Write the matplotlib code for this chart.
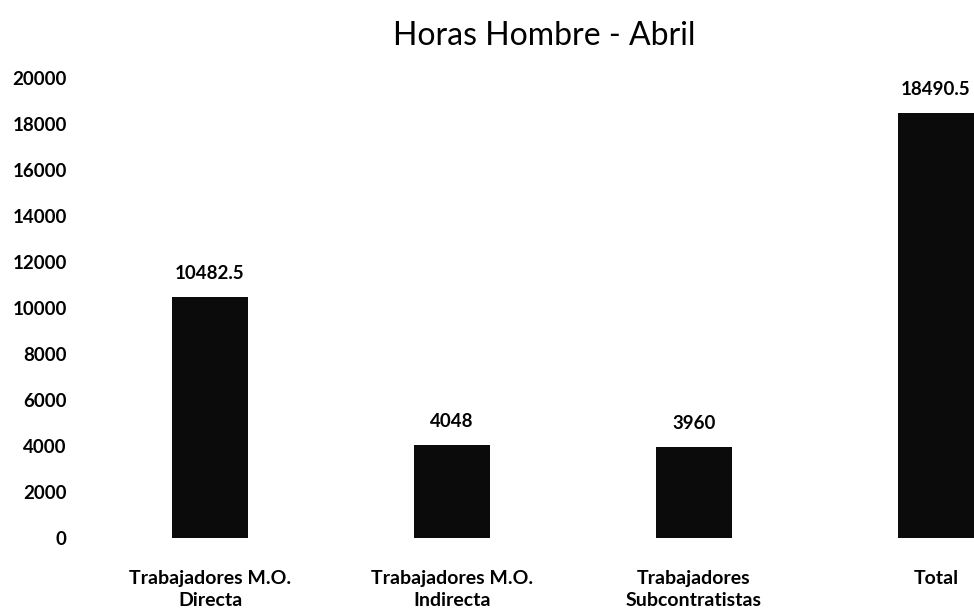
import matplotlib
matplotlib.use("Agg")
import matplotlib.pyplot as plt

# datos de horas hombre del mes
categorias = ["Trabajadores M.O.\nDirecta", "Trabajadores M.O.\nIndirecta",
              "Trabajadores\nSubcontratistas", "Total"]
horas = [10482.5, 4048, 3960, 18490.5]
etiquetas = ["10482.5", "4048", "3960", "18490.5"]
ticks_y = [0, 2000, 4000, 6000, 8000, 10000, 12000, 14000, 16000, 18000, 20000]

plt.rcParams['font.family'] = ['Lato', 'DejaVu Sans']

W, H = 974, 608
fig = plt.figure(figsize=(W / 100, H / 100), dpi=100)

# el área del gráfico sigue más allá del borde derecho (la última barra queda cortada)
izq, paso = 89, 242
ax = fig.add_axes([izq / W, (H - 538) / H, 4 * paso / W, 460 / H])

x = list(range(len(horas)))
ax.bar(x, horas, width=0.31, color="#0b0b0b", zorder=2)

for xi, v, txt in zip(x, horas, etiquetas):
    ax.annotate(txt, (xi, v), xytext=(0, 17), textcoords="offset points",
                ha="center", va="center", fontsize=13.5, fontweight="bold")

ax.set_xlim(-0.5, 3.5)
ax.set_ylim(0, 20000)
ax.set_yticks(ticks_y)
ax.set_yticklabels([str(t) for t in ticks_y], fontsize=13.5, fontweight="bold")
ax.set_xticks(x)
ax.set_xticklabels(categorias, fontsize=14, fontweight="bold", linespacing=1.38)
ax.tick_params(axis="both", length=0)
ax.tick_params(axis="y", pad=16)
ax.tick_params(axis="x", pad=23)
for s in ax.spines.values():
    s.set_visible(False)

fig.text(544 / W, 1 - 36 / H, "Horas Hombre - Abril", ha="center", va="center", fontsize=23)

fig.savefig("out.png", dpi=100)
